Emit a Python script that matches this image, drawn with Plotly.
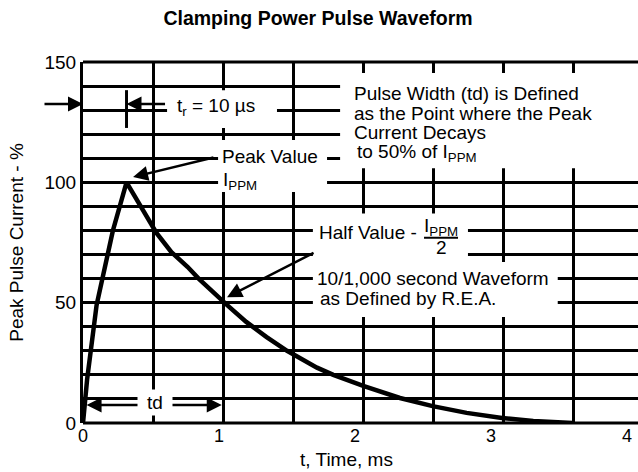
import plotly.graph_objects as go

# ---------------- data ----------------
title_text = "Clamping Power Pulse Waveform"
x_title = "t, Time, ms"
y_title = "Peak Pulse Current - %"

x_tick_vals = [0, 1, 2, 3, 4]
x_tick_text = ["0", "1", "2", "3", "4"]
y_tick_vals = [0, 50, 100, 150]
y_tick_text = ["0", "50", "100", "150"]

# waveform: time in ms, current in % of IPPM
time_ms = [0.0, 0.03, 0.10, 0.16, 0.22, 0.32, 0.44, 0.54, 0.65, 0.77, 0.85,
           0.95, 1.06, 1.20, 1.35, 1.50, 1.72, 1.84, 2.06, 2.33, 2.57, 2.82,
           3.08, 3.31, 3.46, 3.60]
current_pct = [0, 18, 49, 65, 80, 100, 89, 79, 71, 64.8, 60,
               54.5, 49, 42, 35.7, 30, 23, 20, 15.4, 10.4, 7.0, 4.2,
               2.1, 0.8, 0.4, 0.0]

# ---------------- styling / layout constants ----------------
BLACK = "black"
FONT = "Liberation Sans, Arial, Helvetica, sans-serif"
TXT = 19
GRID_W = 3
X_GRID_STEP = 0.515   # spacing of vertical rules of the original drawing
Y_GRID_STEP = 10

peak_i = current_pct.index(max(current_pct))
t_peak = time_ms[peak_i]

fig = go.Figure()
fig.add_trace(go.Scatter(
    x=time_ms, y=current_pct, mode="lines",
    line=dict(color=BLACK, width=4.5), hoverinfo="skip", showlegend=False))

# white panels that mask the rules behind the texts (axis units)
panels = [
    (0.618, 1.426, 122.6, 138.3),   # t_r label
    (0.993, 1.794, 96.0, 117.6),    # Peak Value
    (1.89, 4.30, 105.9, 145.4),     # definition text
    (1.69, 2.83, 66.9, 87.0),       # Half Value
    (1.69, 3.49, 44.0, 66.9),       # 10/1,000 waveform
]
shapes = []
for x0, x1, y0, y1 in panels:
    shapes.append(dict(type="rect", xref="x", yref="y", x0=x0, x1=x1, y0=y0, y1=y1,
                       fillcolor="white", line=dict(width=0), layer="above"))
# top and bottom frame lines of the plot area
for yy in (0, 1):
    shapes.append(dict(type="line", xref="paper", yref="paper", x0=0, x1=1, y0=yy, y1=yy,
                       line=dict(color=BLACK, width=3), layer="above"))
# t_r marker at the peak time
shapes.append(dict(type="line", xref="x", yref="y", x0=t_peak, x1=t_peak,
                   y0=122.6, y1=138.3, line=dict(color=BLACK, width=3), layer="above"))
# fraction bar of IPPM / 2
shapes.append(dict(type="line", xref="x", yref="y", x0=2.507, x1=2.757,
                   y0=77.0, y1=77.0, line=dict(color=BLACK, width=2), layer="above"))


def label(text, x, y, xanchor="left", size=TXT, **kw):
    return dict(text=text, x=x, y=y, xref="x", yref="y", xanchor=xanchor,
                yanchor="middle", showarrow=False,
                font=dict(family=FONT, size=size, color=BLACK), **kw)


def arrow(x, y, ax, ay, pixel=False, **kw):
    d = dict(text="", x=x, y=y, ax=ax, ay=ay, xref="x", yref="y",
             showarrow=True, arrowhead=2, arrowsize=1.2, arrowwidth=2.5,
             arrowcolor=BLACK, standoff=0, startstandoff=0)
    if not pixel:
        d.update(axref="x", ayref="y")
    d.update(kw)
    return d


annotations = [
    # t_r
    arrow(0, 132.5, -40, 0, pixel=True),
    arrow(t_peak, 132.5, 40, 0, pixel=True),
    label("t<sub>r</sub> = 10 µs", 0.676, 131.3),
    # Peak value
    label("Peak Value", 1.007, 110.6),
    label("I<sub>PPM</sub>", 1.012, 100.5),
    arrow(0.368, 102.2, 0.97, 110.5),
    # definition block
    label("Pulse Width (td) is Defined", 1.978, 137.1),
    label("as the Point where the Peak", 1.978, 128.8),
    label("Current Decays", 1.978, 120.9),
    label("to 50% of I<sub>PPM</sub>", 2.0, 112.0),
    # half value
    label("Half Value -", 1.72, 79.0),
    label("I<sub>PPM</sub>", 2.632, 81.6, xanchor="center"),
    label("2", 2.632, 72.9, xanchor="center"),
    # 10/1000 waveform
    label("10/1,000 second Waveform", 1.705, 60.2),
    label("as Defined by R.E.A.", 1.727, 51.9),
    arrow(1.059, 52.3, 1.706, 71.0),
    # td
    arrow(1.02, 7.5, 0.015, 7.5, arrowside="end+start"),
    label("td", 0.53, 8.7, xanchor="center", bgcolor="white", width=30, borderpad=2),
    # x axis title
    dict(text=x_title, xref="x", yref="paper", x=1.94, y=-0.1, xanchor="center",
         yanchor="middle", showarrow=False, font=dict(family=FONT, size=TXT, color=BLACK)),
]

fig.update_layout(
    width=638, height=472,
    margin=dict(l=83, r=0, t=62, b=49),
    paper_bgcolor="white", plot_bgcolor="white",
    font=dict(family=FONT, size=TXT, color=BLACK),
    title=dict(text="<b>" + title_text + "</b>", x=0.4984, xref="container",
               y=0.961, yref="container", xanchor="center", yanchor="middle",
               font=dict(family=FONT, size=19.5, color=BLACK)),
    shapes=shapes, annotations=annotations,
    showlegend=False,
)
fig.update_xaxes(
    range=[0, 4.08], tickmode="array", tickvals=x_tick_vals, ticktext=x_tick_text,
    showgrid=False, zeroline=False, showline=False, ticks="",
    tickfont=dict(family=FONT, size=18, color=BLACK),
    minor=dict(dtick=X_GRID_STEP, tick0=0, showgrid=True, gridcolor=BLACK,
               gridwidth=GRID_W, ticks=""),
    fixedrange=True,
)
fig.update_yaxes(
    range=[0, 150], tickmode="array", tickvals=y_tick_vals, ticktext=y_tick_text,
    showgrid=True, gridcolor=BLACK, gridwidth=GRID_W, zeroline=False,
    showline=True, linecolor=BLACK, linewidth=3, ticks="",
    tickfont=dict(family=FONT, size=TXT, color=BLACK),
    title=dict(text=y_title, font=dict(family=FONT, size=TXT, color=BLACK), standoff=16),
    minor=dict(dtick=Y_GRID_STEP, showgrid=True, gridcolor=BLACK, gridwidth=GRID_W, ticks=""),
    fixedrange=True,
)

fig.write_html("out.html", config={"displayModeBar": False},
               post_script="document.body.style.margin='0';")
